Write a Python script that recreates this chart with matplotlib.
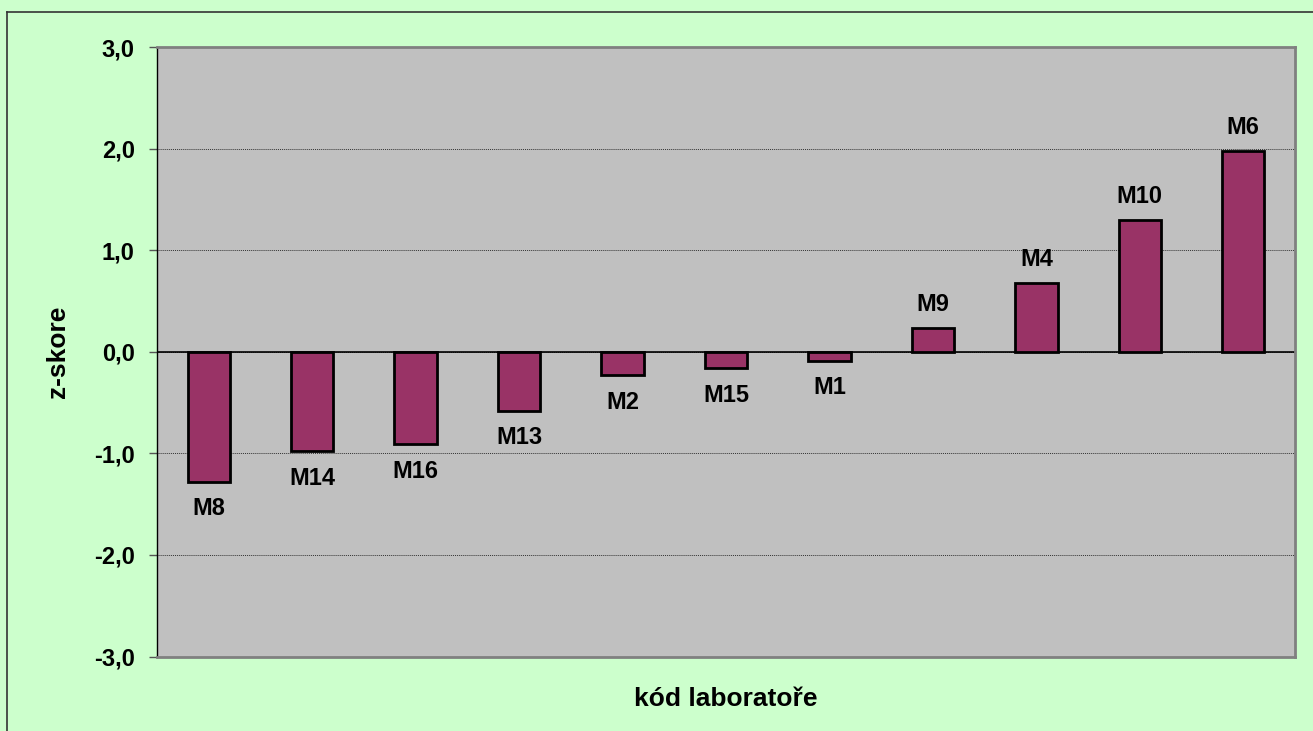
import matplotlib
matplotlib.use('Agg')
import matplotlib.pyplot as plt
from matplotlib.lines import Line2D
from matplotlib.ticker import FuncFormatter

# data
labs = ['M8', 'M14', 'M16', 'M13', 'M2', 'M15', 'M1', 'M9', 'M4', 'M10', 'M6']
zscore = [-1.28, -0.98, -0.91, -0.58, -0.23, -0.16, -0.09, 0.23, 0.68, 1.30, 1.98]
yticks = [-3, -2, -1, 0, 1, 2, 3]

BG = '#CCFFCC'
PLOT_BG = '#C0C0C0'
BAR = '#993366'
FS = 17

plt.rcParams['font.family'] = ['Liberation Sans', 'DejaVu Sans']

fig = plt.figure(figsize=(13.13, 7.31), dpi=100)
fig.patch.set_facecolor(BG)
ax = fig.add_axes([0.1196, 0.1019, 0.8667, 0.8338])
ax.set_facecolor(PLOT_BG)

x = range(len(labs))
bars = ax.bar(x, zscore, width=0.41, color=BAR, edgecolor='black', linewidth=2, zorder=3)
for b, v, name in zip(bars, zscore, labs):
    cx = b.get_x() + b.get_width() / 2
    off = 17 if v >= 0 else -19.5
    ax.annotate(name, (cx, v), xytext=(0, off), textcoords='offset points',
                ha='center', va='center', fontsize=FS, fontweight='bold')

ax.set_xlim(-0.5, len(labs) - 0.5)
ax.set_ylim(-3, 3)
ax.set_yticks(yticks)
ax.yaxis.set_major_formatter(FuncFormatter(lambda v, p: f'{v:.1f}'.replace('.', ',')))
ax.set_xticks([])
for lbl in ax.get_yticklabels():
    lbl.set_fontweight('bold')
ax.tick_params(axis='y', labelsize=FS, length=5.5, width=1, color='#555', pad=10.5)

ax.grid(axis='y', color='#333', linestyle=(0, (1, 1)), linewidth=0.7, zorder=1)
ax.axhline(0, color='black', linewidth=1.2, zorder=2)

for s in ['top', 'right', 'bottom']:
    ax.spines[s].set_color('#808080')
    ax.spines[s].set_linewidth(2)
ax.spines['left'].set_color('black')
ax.spines['left'].set_linewidth(1)

ax.set_ylabel('z-skore', fontsize=19, fontweight='bold', va='center')
ax.yaxis.set_label_coords(-0.087, 0.5)
ax.set_xlabel('kód laboratoře', fontsize=19, fontweight='bold', va='center')
ax.xaxis.set_label_coords(0.5, -0.07)

# outer chart border (left and top edges visible)
fig.add_artist(Line2D([7 / 1313, 7 / 1313], [0, 1 - 12 / 731], transform=fig.transFigure,
                      color='#333', linewidth=1.2))
fig.add_artist(Line2D([7 / 1313, 1], [1 - 12 / 731, 1 - 12 / 731], transform=fig.transFigure,
                      color='#333', linewidth=1.2))

plt.savefig('out.png', dpi=100, facecolor=BG)
plt.close()
